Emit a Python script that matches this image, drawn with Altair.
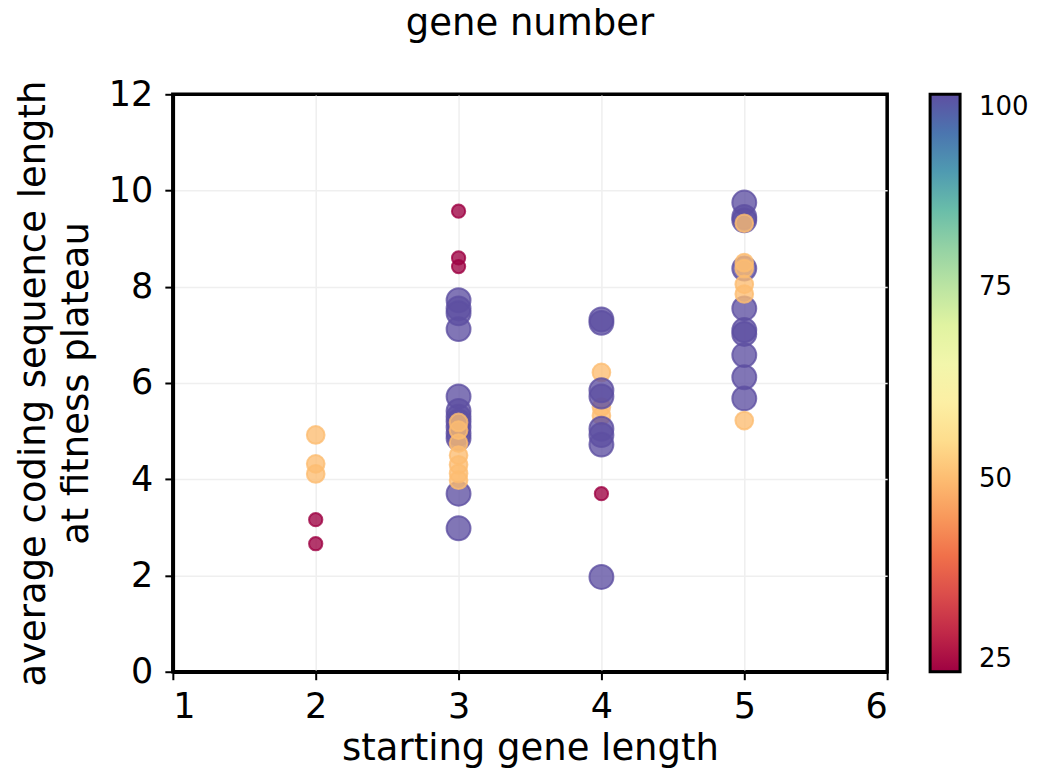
import altair as alt
import pandas as pd

# starting gene length groups: (x, gene number, y values)
x2_g50 = [4.92, 4.32, 4.11]
x2_g25 = [3.16, 2.66]
x3_g100 = [7.72, 7.55, 7.45, 7.12, 5.72, 5.42, 5.30, 5.20, 5.08, 4.95, 4.85, 3.70, 2.98]
x3_g50 = [5.18, 5.02, 4.75, 4.50, 4.30, 4.12, 3.98]
x3_g25 = [9.57, 8.60, 8.42]
x4_g50 = [6.22, 5.50, 5.32]
x4_g100 = [7.32, 7.25, 5.85, 5.72, 5.05, 4.92, 4.72, 1.97]
x4_g25 = [3.70]
x5_g100 = [9.75, 9.45, 9.38, 8.38, 7.55, 7.10, 7.02, 6.58, 6.12, 5.68]
x5_g50 = [9.32, 8.50, 8.38, 8.05, 7.85, 5.22]

groups = [
    (2, 50, x2_g50), (2, 25, x2_g25),
    (3, 100, x3_g100), (3, 50, x3_g50), (3, 25, x3_g25),
    (4, 50, x4_g50), (4, 100, x4_g100), (4, 25, x4_g25),
    (5, 100, x5_g100), (5, 50, x5_g50),
]

rows = []
for xv, g, ys in groups:
    for yv in ys:
        rows.append({"start": xv, "avg": yv, "gene": g, "gene_s": g, "gene_e": g})
df = pd.DataFrame(rows)

title_text = ["gene number"]
x_ticks = [1, 2, 3, 4, 5, 6]
y_ticks = [0, 2, 4, 6, 8, 10, 12]
legend_ticks = [25, 50, 75, 100]

x_grid_color = {"condition": {"test": "datum.value == 1 || datum.value == 6", "value": "black"},
                "value": "#efefef"}
y_grid_color = {"condition": {"test": "datum.value == 0 || datum.value == 12", "value": "black"},
                "value": "#efefef"}

points = alt.Chart(df).mark_circle(
    fillOpacity=0.78, strokeOpacity=0.78, strokeWidth=2
).encode(
    x=alt.X("start:Q", title="starting gene length",
            scale=alt.Scale(domain=[1, 6], nice=False, zero=False),
            axis=alt.Axis(values=x_ticks, titleY=88, titleBaseline="alphabetic",
                          gridColor=x_grid_color)),
    y=alt.Y("avg:Q", title=["average coding sequence length", "at fitness plateau"],
            scale=alt.Scale(domain=[0, 12], nice=False),
            axis=alt.Axis(values=y_ticks, titleX=-128, titleY=289,
                          titleBaseline="alphabetic", titleAlign="center",
                          titleLineHeight=43, gridColor=y_grid_color)),
    color=alt.Color("gene:Q", scale=alt.Scale(scheme="spectral", domain=[25, 100]),
                    legend=alt.Legend(title=None, type="gradient", orient="none",
                                      legendX=758, legendY=0,
                                      values=legend_ticks, gradientLength=578,
                                      gradientThickness=30, direction="vertical",
                                      labelOffset=19)),
    stroke=alt.Stroke("gene_e:Q",
                      scale=alt.Scale(scheme="spectral", domainMin=25, domainMax=100),
                      legend=None),
    size=alt.Size("gene_s:Q", scale=alt.Scale(domain=[25, 50, 100], range=[177, 314, 573]),
                  legend=None),
)

title_layer = alt.Chart(pd.DataFrame({"t": title_text})).mark_text(
    fontSize=37, font="DejaVu Sans", color="black", baseline="alphabetic", align="center"
).encode(
    text="t:N", x=alt.value(357.5), y=alt.value(-59),
)

chart = alt.layer(points, title_layer).properties(
    width=715, height=578,
    autosize=alt.AutoSizeParams(type="none"),
    padding={"left": 165, "top": 86, "right": 150, "bottom": 96},
).configure(
    font="DejaVu Sans",
).configure_view(
    stroke="black", strokeWidth=3.5,
).configure_axis(
    labelFontSize=35, titleFontSize=37, labelColor="black", titleColor="black",
    titleFontWeight="normal", tickColor="black", tickSize=8, tickWidth=2,
    domain=True, domainColor="black", domainWidth=3.5,
    gridWidth=1.5, labelPadding=10,
    labelFont="DejaVu Sans", titleFont="DejaVu Sans",
).configure_axisY(
    labelPadding=12,
).configure_legend(
    labelFontSize=26, labelColor="black", labelFont="DejaVu Sans",
    gradientStrokeColor="black", gradientStrokeWidth=3,
    padding=0,
)

chart.save("out.html", embed_options={"renderer": "svg", "actions": False})
